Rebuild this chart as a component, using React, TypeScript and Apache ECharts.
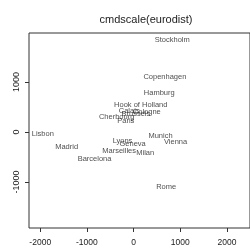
import React, { useEffect, useRef } from "react";
import * as echarts from "echarts";

const cities = [
  "Barcelona", "Brussels", "Calais", "Cherbourg", "Cologne", "Copenhagen",
  "Geneva", "Hamburg", "Hook of Holland", "Lisbon", "Lyons", "Madrid",
  "Marseilles", "Milan", "Munich", "Paris", "Rome", "Stockholm", "Vienna",
];
const xCoord = [
  -825.38, 59.18, -82.85, -352.5, 293.69, 681.93,
  -9.42, 561.11, 164.92, -1935.04, -226.42, -1423.35,
  -299.5, 260.88, 587.68, -156.84, 709.41, 839.45, 911.23,
];
const yCoord = [
  -546.81, 367.08, 429.91, 290.91, 405.31, 1108.64,
  -240.41, 773.37, 549.37, -49.13, -187.09, -305.88,
  -388.81, -416.67, -81.18, 211.14, -1109.37, 1836.79, -205.93,
];
const xTicks = [-2000, -1000, 0, 1000, 2000];
const yTicks = [-1000, 0, 1000];
const title = "cmdscale(eurodist)";

export default function App() {
  const ref = useRef<HTMLDivElement>(null);
  useEffect(() => {
    if (!ref.current) return;
    const chart = echarts.init(ref.current, null, { renderer: "svg" });
    const data = cities.map((c, i) => ({ name: c, value: [xCoord[i], yCoord[i]] }));
    const fmt = (v: number) => String(v);
    chart.setOption({
      animation: false,
      title: {
        text: title,
        left: 141,
        top: 8,
        textAlign: "center",
        textStyle: { fontFamily: "Liberation Sans", fontSize: 11, fontWeight: "normal", color: "#222" },
      },
      grid: {
        left: 29, top: 33, width: 224, height: 195,
        show: true, borderColor: "#333", borderWidth: 1, backgroundColor: "transparent",
      },
      xAxis: {
        type: "value", min: -2241, max: 2495,
        splitLine: { show: false },
        axisLine: { show: false, onZero: false },
        axisTick: { show: true, length: 4, customValues: xTicks, lineStyle: { color: "#333" } },
        axisLabel: {
          customValues: xTicks, formatter: fmt, margin: 9, fontFamily: "Liberation Sans", fontSize: 8.5, color: "#222",
        },
      },
      yAxis: {
        type: "value", min: -1920, max: 1980,
        splitLine: { show: false },
        axisLine: { show: false, onZero: false },
        axisTick: { show: true, length: 4, customValues: yTicks, lineStyle: { color: "#333" } },
        axisLabel: {
          customValues: yTicks, formatter: fmt, rotate: 90, margin: 9, fontFamily: "Liberation Sans", fontSize: 9, color: "#222",
        },
      },
      series: [
        {
          type: "scatter",
          data,
          symbolSize: 1,
          itemStyle: { color: "rgba(0,0,0,0)" },
          label: {
            show: true, position: [0, 0], align: "center", verticalAlign: "middle", formatter: "{b}",
            fontFamily: "Liberation Sans", fontSize: 7.5, color: "#222", textBorderWidth: 0,
          },
          emphasis: { disabled: true },
        },
      ],
    });
    return () => chart.dispose();
  }, []);
  return (
    <div
      ref={ref}
      style={{ position: "fixed", left: 0, top: 0, width: 250, height: 251, willChange: "transform" }}
    />
  );
}
